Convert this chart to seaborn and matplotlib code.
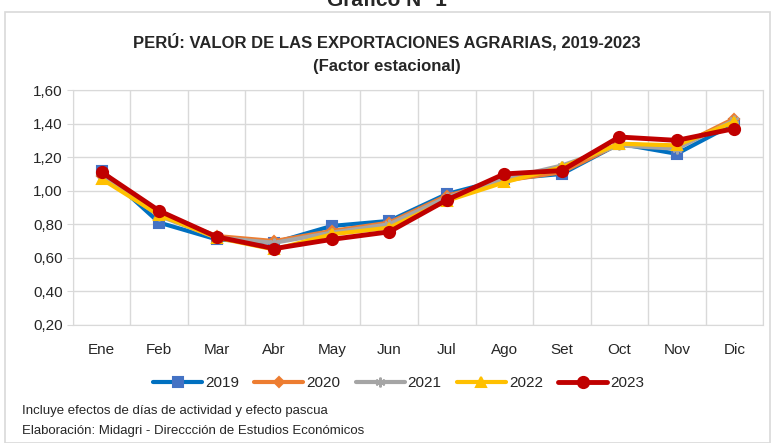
import pandas as pd
import seaborn as sns
import matplotlib.pyplot as plt
from matplotlib.patches import Rectangle

meses = ["Ene", "Feb", "Mar", "Abr", "May", "Jun", "Jul", "Ago", "Set", "Oct", "Nov", "Dic"]
v2019 = [1.12, 0.81, 0.71, 0.69, 0.79, 0.82, 0.98, 1.07, 1.10, 1.28, 1.22, 1.40]
v2020 = [1.09, 0.86, 0.73, 0.70, 0.76, 0.81, 0.97, 1.06, 1.11, 1.28, 1.26, 1.43]
v2021 = [1.09, 0.85, 0.72, 0.69, 0.75, 0.80, 0.96, 1.07, 1.15, 1.27, 1.25, 1.42]
v2022 = [1.07, 0.855, 0.72, 0.65, 0.74, 0.78, 0.94, 1.05, 1.14, 1.28, 1.27, 1.41]
v2023 = [1.11, 0.88, 0.725, 0.655, 0.71, 0.755, 0.945, 1.10, 1.12, 1.32, 1.30, 1.37]

series = {"2019": v2019, "2020": v2020, "2021": v2021, "2022": v2022, "2023": v2023}
rows = []
for anio, vals in series.items():
    for i, v in enumerate(vals):
        rows.append({"mes": i, "anio": anio, "valor": v})
df = pd.DataFrame(rows)

sns.set_style("white")
plt.rcParams["font.family"] = ["Liberation Sans", "DejaVu Sans"]

estilos = {
    "2019": dict(color="#0070C0", marker="s", mfc="#4472C4", mec="#4472C4", ms=7, lw=3.0),
    "2020": dict(color="#ED7D31", marker="D", mfc="#ED7D31", mec="#ED7D31", ms=5, lw=3.0),
    "2021": dict(color="#A5A5A5", marker=(6, 2, 0), mfc="#A5A5A5", mec="#A5A5A5", ms=7, lw=3.0),
    "2022": dict(color="#FFC000", marker="^", mfc="#FFC000", mec="#FFC000", ms=7, lw=3.0),
    "2023": dict(color="#C00000", marker="o", mfc="#C00000", mec="#C00000", ms=8, lw=3.5),
}

fig = plt.figure(figsize=(7.74, 4.43), dpi=100)
ax = fig.add_axes([0.0943, 0.2664, 0.8915, 0.5304])

for anio in series:
    st = estilos[anio]
    sns.lineplot(data=df[df["anio"] == anio], x="mes", y="valor", ax=ax,
                 color=st["color"], marker=st["marker"], markerfacecolor=st["mfc"],
                 markeredgecolor=st["mec"], markersize=st["ms"], linewidth=st["lw"],
                 markeredgewidth=1.5, label=anio)

ax.set_xlim(-0.5, 11.5)
ax.set_ylim(0.2, 1.6)
ax.set_yticks([0.2, 0.4, 0.6, 0.8, 1.0, 1.2, 1.4, 1.6])
ax.set_yticklabels([f"{t:.2f}".replace(".", ",") for t in ax.get_yticks()], fontsize=11)
ax.set_xticks(range(12))
ax.set_xticklabels(meses, fontsize=11)
ax.set_xticks([i - 0.5 for i in range(13)], minor=True)
ax.tick_params(axis="x", which="major", length=0, pad=13)
ax.tick_params(axis="x", which="minor", length=4, color="#D9D9D9", direction="out")
ax.tick_params(axis="y", length=4, color="#D9D9D9", direction="out", left=True)
ax.grid(True, which="minor", axis="x", color="#D9D9D9", lw=1)
ax.grid(True, which="major", axis="y", color="#D9D9D9", lw=1)
for s in ax.spines.values():
    s.set_color("#D9D9D9")
ax.set_xlabel("")
ax.set_ylabel("")
ax.get_legend().remove()

h, l = ax.get_legend_handles_labels()
fig.legend(h, l, loc="center", bbox_to_anchor=(0.515, 0.135), ncol=5, frameon=False,
           fontsize=11, handlelength=3.2, columnspacing=1.0, handletextpad=0.2)

fig.text(0.5, 0.905, "PERÚ: VALOR DE LAS EXPORTACIONES AGRARIAS, 2019-2023",
         ha="center", va="center", fontsize=12, fontweight="bold")
fig.text(0.5, 0.851, "(Factor estacional)", ha="center", va="center",
         fontsize=12, fontweight="bold")
fig.text(0.5, 1.0, "Gráfico N° 1", ha="center", va="center", fontsize=15, fontweight="bold")
fig.text(0.028, 0.072, "Incluye efectos de días de actividad y efecto pascua", fontsize=9.5, va="center")
fig.text(0.028, 0.028, "Elaboración: Midagri - Direccción de Estudios Económicos", fontsize=9.5, va="center")

fig.patches.append(Rectangle((0.007, 0.0), 0.988, 0.972, transform=fig.transFigure,
                             fill=False, edgecolor="#D9D9D9", lw=1.2))

fig.savefig("out.png", dpi=100)
